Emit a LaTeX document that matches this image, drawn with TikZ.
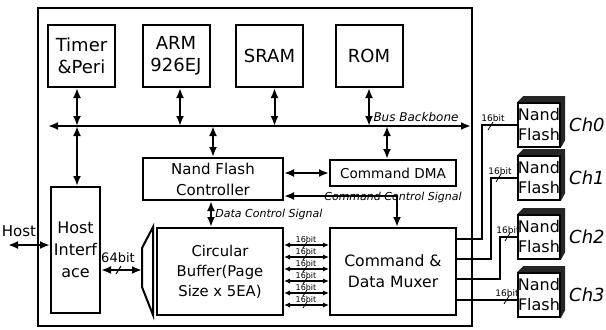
\documentclass[tikz,border=0pt]{standalone}
\usepackage{fontspec}
\setmainfont{DejaVu Sans}
\usetikzlibrary{arrows.meta,positioning,calc}
\tikzstyle{unit} = [rectangle, draw, line width=1pt, fill=white,
align=center, inner sep=0pt, font=\fontsize{7.5}{10.5}\selectfont]
\tikzstyle{core} = [unit, minimum width=33.5pt, minimum height=31pt,
font=\fontsize{9}{11}\selectfont]
\tikzstyle{nand} = [rectangle, draw, line width=0.8pt, fill=white,
align=center, inner sep=0pt, minimum width=21pt, minimum height=22pt,
font=\fontsize{8}{10}\selectfont]
\tikzstyle{line} = [draw, {Latex[length=5pt,width=4pt]}-{Latex[length=5pt,width=4pt]}, line width=1pt]
\tikzstyle{oneway} = [draw, -{Latex[length=5pt,width=4pt]}, line width=1pt]
\tikzstyle{lane} = [draw, {Latex[length=3pt,width=2.6pt]}-{Latex[length=3pt,width=2.6pt]}, line width=0.7pt]
\tikzstyle{chan} = [draw, line width=0.8pt]
\tikzstyle{sig} = [inner sep=0pt, font=\fontsize{5.5}{6}\selectfont\itshape]
\tikzstyle{bits} = [inner sep=0pt, font=\fontsize{4.5}{5}\selectfont]

\begin{document}
\begin{tikzpicture}[x=0.5pt, y=-0.5pt]
	\useasboundingbox (0,0) rectangle (606,329);
	% Place nodes
	\node [draw, line width=1.2pt, minimum width=217pt, minimum height=159pt,
	inner sep=0pt] (soc) at (255,167) {};
	\node [core] (timer) at (81.5,56) {Timer\\\&Peri};
	\node [core, right of=timer, node distance=47.25pt] (arm) {ARM\\926EJ};
	\node [core, right of=arm, node distance=46.75pt] (sram) {SRAM};
	\node [core, right of=sram, node distance=49.75pt] (rom) {ROM};
	\node [unit, minimum width=70pt, minimum height=21pt] (nfc) at (213,179)
	{Nand Flash\\Controller};
	\node [unit, minimum width=63pt, minimum height=13pt,
	font=\fontsize{6.8}{8}\selectfont] (cdma) at (393,173) {Command DMA};
	\node [unit, minimum width=24.5pt, minimum height=63pt,
	font=\fontsize{8}{11}\selectfont] (hif) at (75.5,250) {Host\\Interf\\ace};
	\node [unit, minimum width=63pt, minimum height=43.5pt,
	font=\fontsize{7.4}{10}\selectfont] (cbuf) at (220,271.5)
	{Circular\\Buffer(Page\\Size x 5EA)};
	\node [unit, minimum width=63pt, minimum height=43.5pt, right of=cbuf,
	node distance=86.5pt, font=\fontsize{7.8}{10.5}\selectfont] (mux)
	{Command \&\\Data Muxer};
	\draw [line width=1pt] (142,248) -- (153,227) -- (153,315) -- (142,287) -- cycle;
	\foreach \i/\y in {0/125,1/178,2/237,3/295} {
		\node [nand] (nf\i) at (539,\y) {Nand\\Flash};
		\fill [black!85] (nf\i.north west) -- ++(6,-6) -- ++(42,0) -- ++(0,44)
		-- (nf\i.south east) -- (nf\i.north east) -- cycle;
		\node [right=4pt of nf\i.east, inner sep=0pt,
		font=\fontsize{9}{9}\selectfont\itshape] (ch\i) {Ch\i};
	}
	% Bus backbone
	\coordinate (busL) at (48,126);
	\coordinate (busR) at (471,126);
	\coordinate (tap) at (77,126);
	\path [line] (busL) -- (busR);
	\node [sig, font=\fontsize{6}{6}\selectfont\itshape] (busname) at (416,117)
	{Bus Backbone};
	\path [line] (tap |- timer.south) -- (tap);
	\path [line] (tap) -- (tap |- hif.north);
	\path [line] ([xshift=2pt]arm.south) -- ([xshift=2pt]arm.south |- busL);
	\path [line] ([xshift=2.5pt]sram.south) -- ([xshift=2.5pt]sram.south |- busL);
	\path [line] (rom.south) -- (rom.south |- busL);
	\path [line] (nfc.north) -- (nfc.north |- busL);
	\path [line] ([xshift=-3pt]cdma.north) -- ([xshift=-3pt]cdma.north |- busL);
	% Controller and DMA
	\path [line] (nfc.east |- cdma) -- (cdma.west);
	\coordinate (ccs) at (397,196);
	\path [oneway] (ccs) -- (nfc.east |- ccs);
	\path [oneway] (ccs) -- (ccs |- mux.north);
	\node [sig] (ccsname) at (393,197) {Command Control Signal};
	\coordinate (dcs) at (211,214);
	\path [line] (nfc.south -| dcs) -- (cbuf.north -| dcs);
	\node [sig, anchor=west] (dcsname) at (215,214) {Data Control Signal};
	% Host side
	\coordinate (host) at (8,245);
	\path [line] (host) -- (hif.west |- host);
	\node [inner sep=0pt, font=\fontsize{7.5}{8}\selectfont] (hostname) at (19,231)
	{Host};
	\coordinate (bufin) at (142,270);
	\path [line] (hif.east |- bufin) -- (bufin);
	\draw [line width=0.5pt] (116,274) -- ++(5,-8);
	\node [inner sep=0pt, font=\fontsize{6.5}{6.5}\selectfont] (wide) at (118,258) {64bit};
	% Buffer to muxer lanes
	\foreach \y in {245,257,...,305} {
		\path [lane] (cbuf.east |- 0,\y) -- (mux.west |- 0,\y);
		\node [bits, font=\fontsize{4}{4}\selectfont] at (306,\y-5) {16bit};
		\draw [line width=0.4pt] (303,\y+3) -- ++(4,-6);
	}
	% Channels
	\path [chan] (mux.east |- 0,239) -| (nf0.west -| 482,0) -- (nf0.west);
	\path [chan] (mux.east |- 0,259) -| (nf1.west -| 491,0) -- (nf1.west);
	\path [chan] (mux.east |- 0,279) -| (nf2.west -| 500,0) -- (nf2.west);
	\path [chan] (mux.east |- 0,300) -- (nf3.west |- 0,300);
	\node [bits] at (493,118) {16bit};
	\draw [line width=0.4pt] (488,130) -- ++(5,-8);
	\node [bits] at (500,171) {16bit};
	\draw [line width=0.4pt] (496,182) -- ++(5,-8);
	\node [bits] at (508,230) {16bit};
	\draw [line width=0.4pt] (505,241) -- ++(5,-8);
	\node [bits] at (507,293) {16bit};
	\draw [line width=0.4pt] (504,304) -- ++(5,-8);
\end{tikzpicture}
\end{document}
